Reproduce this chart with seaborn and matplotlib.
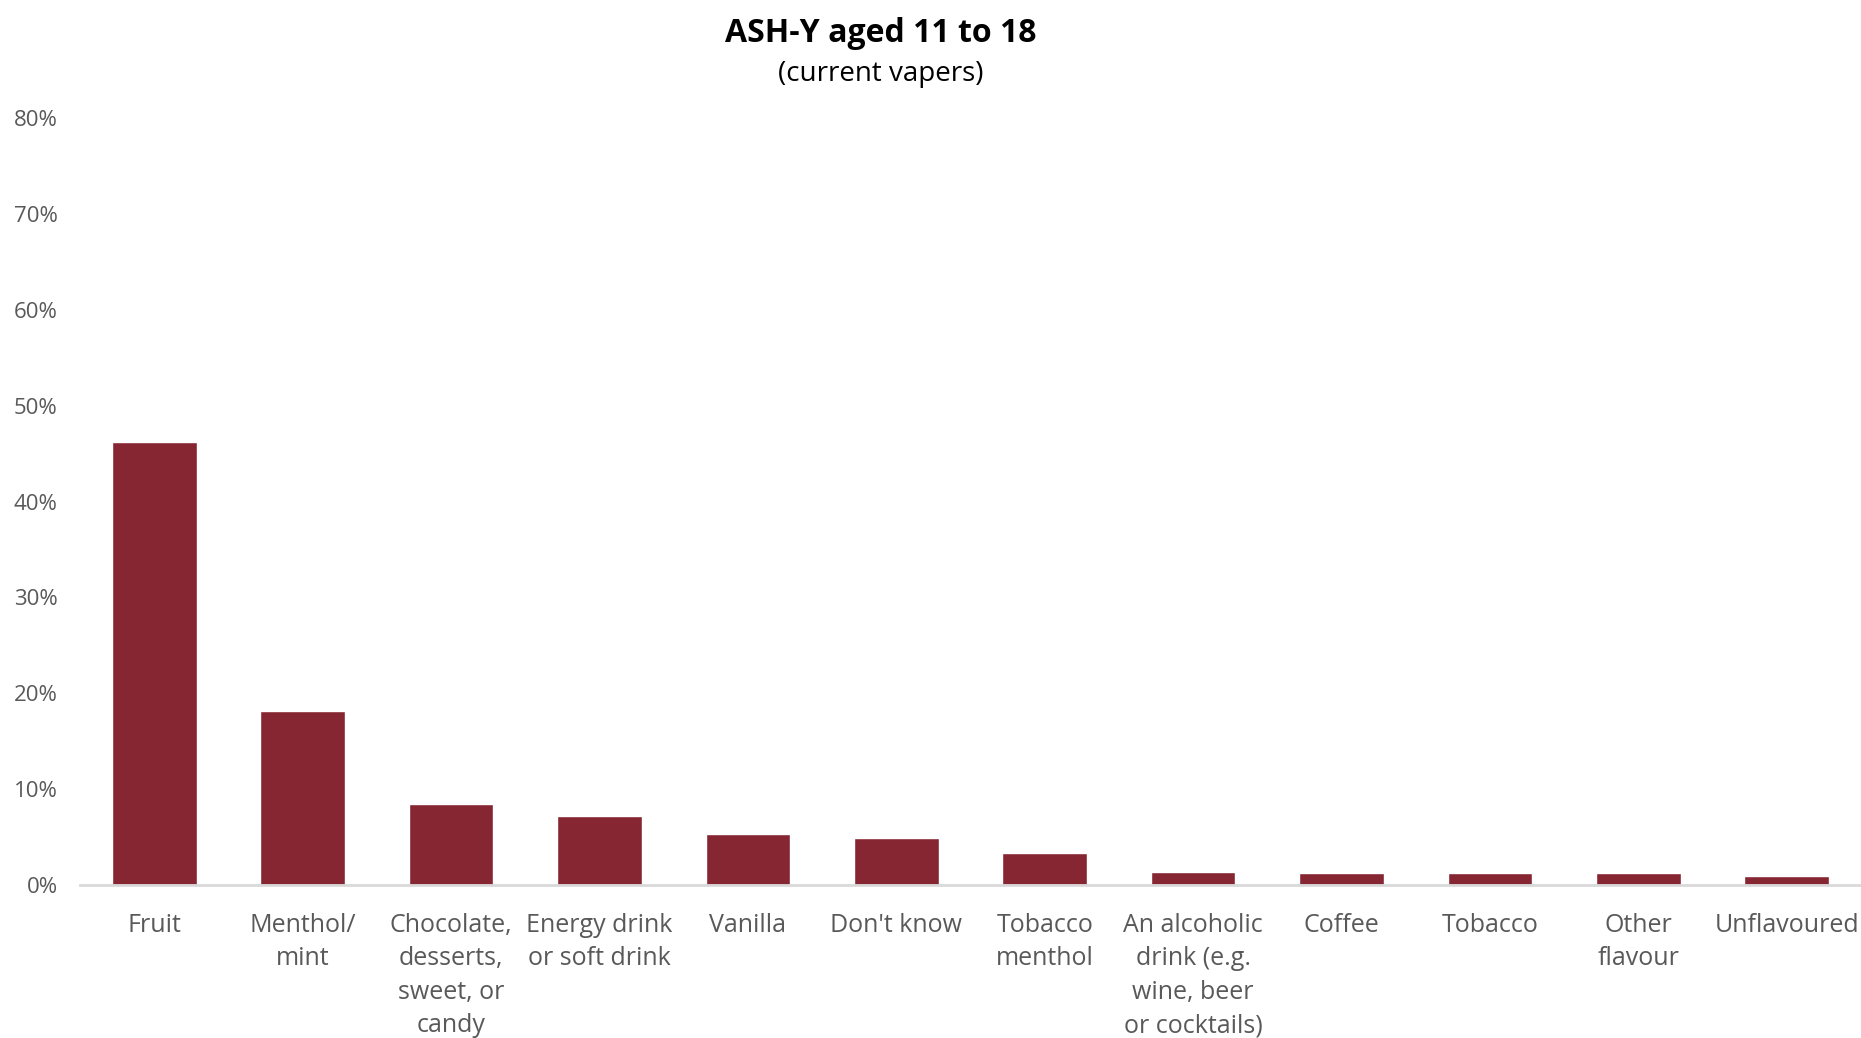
import seaborn as sns
import pandas as pd
from matplotlib import pyplot as plt
from matplotlib.ticker import PercentFormatter

categories = ["Fruit", "Menthol/\nmint", "Chocolate,\ndesserts,\nsweet, or\ncandy",
              "Energy drink\nor soft drink", "Vanilla", "Don't know", "Tobacco\nmenthol",
              "An alcoholic\ndrink (e.g.\nwine, beer\nor cocktails)", "Coffee", "Tobacco",
              "Other\nflavour", "Unflavoured"]
values = [46.2, 18.1, 8.5, 7.2, 5.3, 4.9, 3.3, 1.4, 1.3, 1.2, 1.2, 0.9]

df = pd.DataFrame({"flavour": categories, "pct": values})

sns.set_style("white")
plt.rcParams['font.family'] = ['Open Sans', 'DejaVu Sans']

fig = plt.figure(figsize=(18.61, 10.38), dpi=100)
ax = fig.add_axes([80 / 1861, 1 - 885 / 1038, 1781 / 1861, (885 - 118) / 1038])

sns.barplot(data=df, x="flavour", y="pct", color="#862633", width=0.57,
            saturation=1, ax=ax)

ax.set_ylim(0, 80)
ax.set_yticks(range(0, 81, 10))
ax.yaxis.set_major_formatter(PercentFormatter(decimals=0))
ax.set_xlim(-0.5, len(categories) - 0.5)
ax.set_xlabel("")
ax.set_ylabel("")

for s in ["top", "right", "left"]:
    ax.spines[s].set_visible(False)
ax.spines["bottom"].set_color("#d9d9d9")
ax.spines["bottom"].set_linewidth(2)

ax.tick_params(axis="y", length=0, labelsize=16, labelcolor="#595959", pad=16)
ax.tick_params(axis="x", length=0, labelsize=18, labelcolor="#595959", pad=20)
for lbl in ax.get_xticklabels():
    lbl.set_linespacing(1.45)

fig.text(0.473, 1 - 33 / 1038, "ASH-Y aged 11 to 18", ha="center", va="center",
         fontsize=23, fontweight="bold", color="black")
fig.text(0.473, 1 - 74 / 1038, "(current vapers)", ha="center", va="center",
         fontsize=20, color="black")

fig.savefig("out.png", dpi=100)
